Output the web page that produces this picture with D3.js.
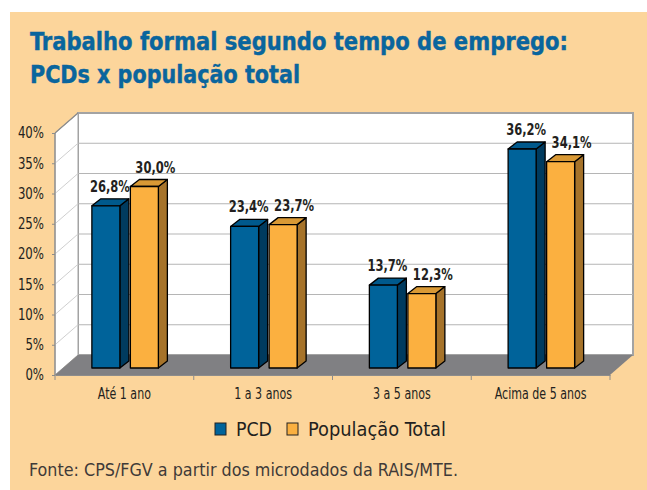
<!DOCTYPE html>
<html><head><meta charset="utf-8">
<script src="https://cdn.jsdelivr.net/npm/d3@7"></script>
<style>
html,body{margin:0;padding:0;background:#fff;}
svg{display:block;}
text{font-family:"DejaVu Sans Condensed","Liberation Sans Narrow",sans-serif;}
</style></head>
<body>
<svg id="chart" width="647" height="490"></svg>
<script>
const categories = ["Até 1 ano", "1 a 3 anos", "3 a 5 anos", "Acima de 5 anos"];
const seriesNames = ["PCD", "População Total"];
const pcdValues = [26.8, 23.4, 13.7, 36.2];
const totalValues = [30.0, 23.7, 12.3, 34.1];
const yTickValues = [0, 5, 10, 15, 20, 25, 30, 35, 40];
const titleLines = ["Trabalho formal segundo tempo de emprego:", "PCDs x população total"];
const sourceText = "Fonte: CPS/FGV a partir dos microdados da RAIS/MTE.";

const fmt = v => v.toFixed(1).replace(".", ",") + "%";
const FONT = '"DejaVu Sans Condensed","Liberation Sans Narrow",sans-serif';

function squeeze(sel, k) {
  sel.each(function() {
    const L = this.getComputedTextLength();
    d3.select(this).attr("textLength", (L * k).toFixed(1)).attr("lengthAdjust", "spacingAndGlyphs");
  });
}

const svg = d3.select("#chart");
// background
svg.append("rect").attr("x", 10).attr("y", 12).attr("width", 637).attr("height", 478).attr("fill", "#FCD59B");

// title
const titleWidths = [538, 270];
svg.selectAll("text.title").data(titleLines).join("text")
  .attr("class", "title")
  .attr("x", 30).attr("y", (d, i) => 50 + i * 33)
  .attr("fill", "#0A659D").attr("font-weight", "bold").attr("font-size", 24)
  .attr("stroke", "#0A659D").attr("stroke-width", 0.4)
  .text(d => d)
  .attr("textLength", (d, i) => titleWidths[i]).attr("lengthAdjust", "spacingAndGlyphs");

// geometry
const x0 = 55, x1 = 610;
const depth = {dx: 23, dy: -20};
const x = d3.scaleBand().domain(categories).range([x0, x1]);
const y = d3.scaleLinear().domain([0, 40]).range([375, 133]);
const inner = d3.scaleBand().domain(seriesNames).range([-32.5, 34]).paddingInner(0.2727);
const barOffY = -7;
const barDepth = {dx: 9, dy: -7};

const g = svg.append("g");
// back wall
g.append("rect").attr("x", x0 + depth.dx).attr("y", y(40) + depth.dy)
  .attr("width", x1 - x0).attr("height", y(0) - y(40))
  .attr("fill", "#fff").attr("stroke", "#A3A3A3").attr("stroke-width", 2);
// side wall
g.append("polygon")
  .attr("points", [[x0, y(40)], [x0 + depth.dx, y(40) + depth.dy], [x0 + depth.dx, y(0) + depth.dy], [x0, y(0)]].join(" "))
  .attr("fill", "#fff").attr("stroke", "#A3A3A3").attr("stroke-width", 1);
// gridlines
const grid = yTickValues.filter(t => t > 0 && t < 40);
g.selectAll("line.gb").data(grid).join("line").attr("class", "gb")
  .attr("x1", x0 + depth.dx).attr("x2", x1 + depth.dx)
  .attr("y1", d => y(d) + depth.dy).attr("y2", d => y(d) + depth.dy)
  .attr("stroke", "#B5B5B5").attr("stroke-width", 1);
g.selectAll("line.gs").data(grid).join("line").attr("class", "gs")
  .attr("x1", x0).attr("x2", x0 + depth.dx)
  .attr("y1", d => y(d)).attr("y2", d => y(d) + depth.dy)
  .attr("stroke", "#CFCFCF").attr("stroke-width", 1);
// floor
g.append("polygon")
  .attr("points", [[x0, y(0)], [x1, y(0)], [x1 + depth.dx, y(0) + depth.dy], [x0 + depth.dx, y(0) + depth.dy]].join(" "))
  .attr("fill", "#808083");
// left axis line
g.append("line").attr("x1", x0).attr("x2", x0).attr("y1", y(40)).attr("y2", y(0))
  .attr("stroke", "#8C8C8C").attr("stroke-width", 1.2);
g.append("line").attr("x1", x0).attr("x2", x0 + depth.dx).attr("y1", y(40)).attr("y2", y(40) + depth.dy)
  .attr("stroke", "#8C8C8C").attr("stroke-width", 1.2);

// y axis
const yAxis = d3.axisLeft(y).tickValues(yTickValues).tickFormat(d => d + "%").tickSize(3).tickPadding(8);
const ya = svg.append("g").attr("transform", `translate(${x0},0)`).call(yAxis);
ya.select(".domain").remove();
ya.selectAll(".tick line").attr("stroke", "#8C8C8C");
ya.selectAll(".tick text").attr("font-size", 15).attr("fill", "#231F20").attr("font-family", FONT);
squeeze(ya.selectAll(".tick text"), 0.87);

// x axis
const xAxis = d3.axisBottom(x).tickSize(0).tickPadding(13);
const xa = svg.append("g").attr("transform", `translate(0,${y(0)})`).call(xAxis);
xa.select(".domain").attr("stroke", "#8C8C8C");
xa.selectAll(".tick text").attr("font-size", 15).attr("fill", "#231F20").attr("font-family", FONT);
squeeze(xa.selectAll(".tick text"), 0.82);
// category separators
const bounds = [x0, ...categories.map(c => x(c) + x.bandwidth())];
xa.selectAll("line.sep").data(bounds).join("line").attr("class", "sep")
  .attr("x1", d => d).attr("x2", d => d).attr("y1", 0).attr("y2", 5)
  .attr("stroke", "#8C8C8C");

// bars
const colors = {
  "PCD": {front: "#00639A", side: "#003B5F", top: "#00598C", labelOff: 18},
  "População Total": {front: "#FBB040", side: "#A6732A", top: "#D99935", labelOff: 25}
};
const barData = [];
categories.forEach((c, i) => {
  barData.push({cat: c, s: "PCD", v: pcdValues[i]});
  barData.push({cat: c, s: "População Total", v: totalValues[i]});
});
const bw = inner.bandwidth();
const bars = svg.append("g").selectAll("g.bar").data(barData).join("g").attr("class", "bar");
bars.each(function(d) {
  const gb = d3.select(this);
  const xc = x(d.cat) + x.bandwidth() / 2;
  const bx = xc + inner(d.s);
  const yt = y(d.v) + barOffY;
  const yb = y(0) + barOffY;
  const c = colors[d.s];
  const st = {stroke: "#000", "stroke-width": 1.3, "stroke-linejoin": "round"};
  const side = gb.append("polygon").attr("points", [[bx + bw, yt], [bx + bw + barDepth.dx, yt + barDepth.dy], [bx + bw + barDepth.dx, yb + barDepth.dy], [bx + bw, yb]].join(" ")).attr("fill", c.side);
  const top = gb.append("polygon").attr("points", [[bx, yt], [bx + barDepth.dx, yt + barDepth.dy], [bx + bw + barDepth.dx, yt + barDepth.dy], [bx + bw, yt]].join(" ")).attr("fill", c.top);
  const front = gb.append("rect").attr("x", bx).attr("y", yt).attr("width", bw).attr("height", yb - yt).attr("fill", c.front);
  [side, top, front].forEach(s => Object.entries(st).forEach(([k, v]) => s.attr(k, v)));
  gb.append("text").attr("class", "vlabel")
    .attr("x", bx + c.labelOff).attr("y", yt + barDepth.dy - 7)
    .attr("text-anchor", "middle").attr("font-weight", "bold").attr("font-size", 16)
    .attr("fill", "#231F20").text(fmt(d.v));
});
squeeze(svg.selectAll("text.vlabel"), 0.8);

// legend
const legendX = [215, 287];
const legendW = [36, 138];
const lg = svg.append("g").selectAll("g").data(seriesNames).join("g")
  .attr("transform", (d, i) => `translate(${legendX[i]},423)`);
lg.append("rect").attr("width", 11).attr("height", 12)
  .attr("fill", d => colors[d].front).attr("stroke", "#222").attr("stroke-width", 1);
lg.append("text").attr("x", 21).attr("y", 13).attr("font-size", 19).attr("fill", "#231F20").text(d => d)
  .attr("textLength", (d, i) => legendW[i]).attr("lengthAdjust", "spacingAndGlyphs");

// source
svg.append("text").attr("x", 29).attr("y", 476).attr("font-size", 17).attr("fill", "#3F3A38").text(sourceText)
  .attr("textLength", 429).attr("lengthAdjust", "spacingAndGlyphs");
</script>
</body></html>
